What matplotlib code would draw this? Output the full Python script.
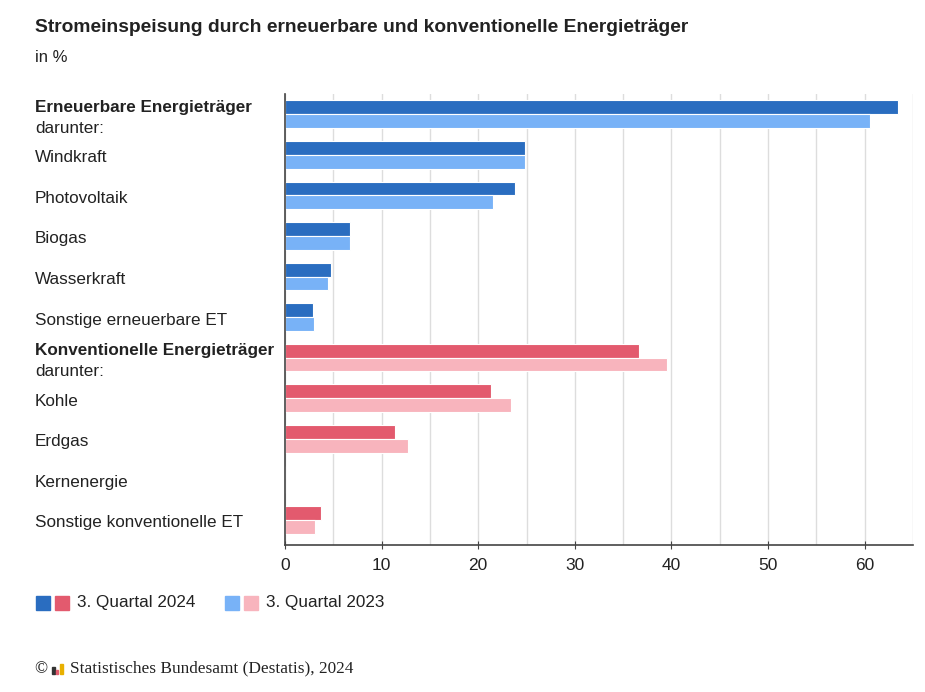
import matplotlib
matplotlib.use("Agg")
import matplotlib.pyplot as plt
from matplotlib.patches import Rectangle
import numpy as np

categories = ['Erneuerbare Energieträger', 'Windkraft', 'Photovoltaik', 'Biogas', 'Wasserkraft',
              'Sonstige erneuerbare ET', 'Konventionelle Energieträger', 'Kohle', 'Erdgas',
              'Kernenergie', 'Sonstige konventionelle ET']
bold_cats = ['Erneuerbare Energieträger', 'Konventionelle Energieträger']
q3_2024 = [63.4, 24.8, 23.8, 6.7, 4.8, 2.9, 36.6, 21.3, 11.4, 0.0, 3.7]
q3_2023 = [60.6, 24.8, 21.5, 6.7, 4.4, 3.0, 39.5, 23.4, 12.7, 0.0, 3.1]
is_renewable = [True] * 6 + [False] * 5
series_labels = ['3. Quartal 2024', '3. Quartal 2023']
xticks = [0, 10, 20, 30, 40, 50, 60]

dark_blue = '#2a6dc0'
light_blue = '#78b2f7'
dark_red = '#e35a6e'
light_red = '#f8b4bd'
txt = '#222222'

plt.rcParams['font.family'] = ['Liberation Sans', 'DejaVu Sans']

fig = plt.figure(figsize=(9.25, 6.92), dpi=100)
W, H = 925, 692
ax = fig.add_axes([285 / W, 1 - 545 / H, (913 - 285) / W, (545 - 94) / H])

y = np.arange(len(categories))
c24 = [dark_blue if r else dark_red for r in is_renewable]
c23 = [light_blue if r else light_red for r in is_renewable]
h = 0.34
ax.barh(y - 0.17, q3_2024, height=h, color=c24, edgecolor='white', linewidth=0.8, zorder=2)
ax.barh(y + 0.17, q3_2023, height=h, color=c23, edgecolor='white', linewidth=0.8, zorder=2)

ax.set_xlim(0, 65)
ax.set_ylim(len(categories) - 1 + 0.62, -0.5)
ax.set_xticks(xticks)
ax.set_xticks(np.arange(5, 66, 5), minor=True)
ax.tick_params(axis='x', which='major', length=6, direction='inout', color='#444444',
               labelsize=12.5, labelcolor=txt, pad=6)
ax.tick_params(axis='x', which='minor', length=0)
ax.tick_params(axis='y', left=False, labelleft=False)
ax.grid(axis='x', which='both', color='#dddddd', linewidth=1, zorder=0)
for s in ['top', 'right']:
    ax.spines[s].set_visible(False)
for s in ['left', 'bottom']:
    ax.spines[s].set_color('#444444')
    ax.spines[s].set_linewidth(1.2)
    ax.spines[s].set_zorder(3)

# category labels (a little below the group centre, like the original)
for i, cat in enumerate(categories):
    yc = ax.transData.transform((0, i))[1]
    yf = yc / H - 3 / H
    if cat in bold_cats:
        fig.text(35 / W, yf + 10 / H, cat, fontsize=12.3, fontweight='bold', color=txt,
                 va='center', ha='left')
        fig.text(35 / W, yf - 11 / H, 'darunter:', fontsize=12.3, color=txt, va='center', ha='left')
    else:
        fig.text(35 / W, yf, cat, fontsize=12.3, color=txt, va='center', ha='left')

# title
fig.text(35 / W, 1 - 28 / H, 'Stromeinspeisung durch erneuerbare und konventionelle Energieträger',
         fontsize=13.9, fontweight='bold', color=txt, va='center', ha='left')
fig.text(35 / W, 1 - 57 / H, 'in %', fontsize=12, color=txt, va='center', ha='left')

# legend
def sq(x, yy, c):
    fig.patches.append(Rectangle((x / W, 1 - (yy + 14) / H), 14 / W, 14 / H, color=c,
                                 transform=fig.transFigure, figure=fig))

sq(36, 596, dark_blue)
sq(55, 596, dark_red)
fig.text(77 / W, 1 - 603 / H, series_labels[0], fontsize=12.3, color=txt, va='center', ha='left')
sq(225, 596, light_blue)
sq(244, 596, light_red)
fig.text(266 / W, 1 - 603 / H, series_labels[1], fontsize=12.3, color=txt, va='center', ha='left')

# footer
fig.text(34 / W, 1 - 669 / H, '©', fontsize=12.4, family='Liberation Serif', color=txt,
         va='center', ha='left')
icon = [(52, 7, '#333333'), (56, 4, '#e35a6e'), (60, 10, '#e8b000')]
for x0, hh, c in icon:
    fig.patches.append(Rectangle((x0 / W, 1 - 674 / H), 2.5 / W, hh / H, color=c,
                                 transform=fig.transFigure, figure=fig))
fig.text(70 / W, 1 - 668 / H, 'Statistisches Bundesamt (Destatis), 2024', fontsize=12.4,
         family='Liberation Serif', color=txt, va='center', ha='left')

fig.savefig('out.png', dpi=100)
